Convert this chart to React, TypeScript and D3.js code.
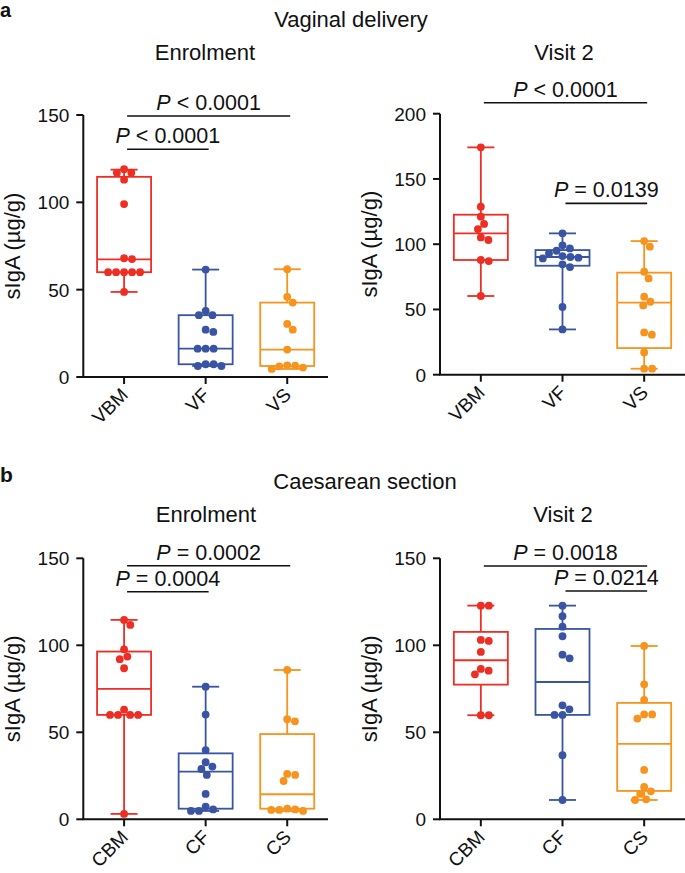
import React from 'react'
import * as d3 from 'd3'

// colours of the three groups (milk, faeces, saliva)
const groupColors = ['#ed2e24', '#3a54a4', '#f7941d']

// ---- a: vaginal delivery, enrolment ----
const vagEnrolCats = ['VBM', 'VF', 'VS']
const vagEnrolBM = [119, 117, 117, 113, 99, 68, 67.5, 60, 60, 60, 60, 60, 48.7]
const vagEnrolF = [61.5, 37.8, 35.4, 35.4, 27.1, 25.8, 16.2, 16.2, 16.2, 7.3, 6.3, 6.3, 7.3]
const vagEnrolS = [61.7, 45.9, 42.6, 30.4, 27.1, 15.7, 6.7, 6.1, 4.6, 5.4, 6.5]
// min, q1, median, q3, max
const vagEnrolBoxes = [
  [48.7, 60, 67.3, 114.6, 118.7],
  [6.3, 7.3, 16.2, 35.4, 61.5],
  [4.6, 6.3, 15.7, 42.6, 61.7]
]
const vagEnrolStats = [
  { from: 0, to: 2, level: 149.4, label: '< 0.0001' },
  { from: 0, to: 1, level: 130.4, label: '< 0.0001' }
]

// ---- a: vaginal delivery, visit 2 ----
const vagVisitCats = ['VBM', 'VF', 'VS']
const vagVisitBM = [174.2, 128.7, 121.1, 115.5, 111.6, 105.2, 103.2, 87.9, 87.1, 60.3]
const vagVisitF = [108.3, 99.1, 96.8, 95, 93, 90.9, 90.2, 89.7, 89.1, 84.6, 82.5, 51.9, 34.7]
const vagVisitS = [102.4, 98.1, 78.9, 73.8, 59.8, 55.9, 53.1, 32.4, 30.7, 17.1, 4.6, 4.6]
const vagVisitBoxes = [
  [60.3, 87.9, 108.3, 122.6, 174.2],
  [34.7, 83.5, 90.2, 95.5, 108.3],
  [4.6, 20.4, 55.2, 78.2, 102.4]
]
const vagVisitStats = [
  { from: 0, to: 2, level: 208.4, label: '< 0.0001' },
  { from: 1, to: 2, level: 131.3, label: '= 0.0139' }
]

// ---- b: caesarean section, enrolment ----
const caeEnrolCats = ['CBM', 'CF', 'CS']
const caeEnrolBM = [114.6, 111.7, 97.7, 93.5, 92, 86.8, 63, 60, 60, 60, 60, 3.1]
const caeEnrolF = [76.2, 60.2, 39.8, 32.8, 30.3, 28.9, 25.5, 14.6, 7.3, 5.7, 4.8, 4.8]
const caeEnrolS = [85.8, 57.5, 56.3, 26.1, 25.5, 22, 6.1, 5.7, 5.4, 5.4, 4.8]
const caeEnrolBoxes = [
  [3.1, 60, 74.9, 96.4, 114.6],
  [4.8, 6.1, 27.4, 37.9, 76.2],
  [4.8, 6.1, 14.4, 49, 85.8]
]
const caeEnrolStats = [
  { from: 0, to: 2, level: 145.7, label: '= 0.0002' },
  { from: 0, to: 1, level: 130.8, label: '= 0.0004' }
]

// ---- b: caesarean section, visit 2 ----
const caeVisitCats = ['CBM', 'CF', 'CS']
const caeVisitBM = [122.8, 122.8, 103.1, 102.5, 96.2, 86.4, 85.4, 83.3, 59.8, 59.8]
const caeVisitF = [122.8, 116.7, 110.7, 105.2, 94.6, 92.5, 65.5, 63.2, 60, 60, 36.8, 11.1]
const caeVisitS = [99.6, 77.6, 68.6, 60.3, 60.3, 57.9, 28.4, 18.6, 16.1, 14.6, 11.5, 11.1]
const caeVisitBoxes = [
  [59.8, 77.4, 91.4, 107.7, 122.8],
  [11.1, 60, 78.9, 109.4, 122.8],
  [11.1, 16.3, 43.3, 66.9, 99.6]
]
const caeVisitStats = [
  { from: 0, to: 2, level: 145.6, label: '= 0.0018' },
  { from: 1, to: 2, level: 131.2, label: '= 0.0214' }
]

const ticks150 = [0, 50, 100, 150]
const ticks200 = [0, 50, 100, 150, 200]

const FONT = '"Liberation Sans", Arial, Helvetica, sans-serif'
const R = 3.9
const SPACING = 8

// simple beeswarm: put each dot at the smallest offset that doesn't hit a placed dot
function swarm(values, y) {
  const placed = []
  const order = values.map((v, i) => i).sort((a, b) => values[b] - values[a])
  const out = new Array(values.length)
  order.forEach(i => {
    const py = y(values[i])
    const cands = [0]
    placed.forEach(p => {
      const dy = Math.abs(p.y - py)
      if (dy < SPACING) {
        const dx = Math.sqrt(SPACING * SPACING - dy * dy)
        cands.push(p.x + dx, p.x - dx)
      }
    })
    cands.sort((a, b) => Math.abs(a) - Math.abs(b) || b - a)
    const ok = cands.find(cx => placed.every(p => {
      const dx = p.x - cx
      const dy = p.y - py
      return dx * dx + dy * dy >= SPACING * SPACING - 0.5
    }))
    const pt = { x: ok, y: py }
    placed.push(pt)
    out[i] = pt
  })
  return out
}

function Panel({ cats, series, boxes, stats, yMax, ticks, x0, x1, yTop, yBottom }) {
  const x = d3.scalePoint().domain(cats).range([x0, x1]).padding(0.5)
  const y = d3.scaleLinear().domain([0, yMax]).range([yBottom, yTop])
  const boxW = 54
  const capW = 27

  return (
    <g>
      {/* boxes + whiskers */}
      {cats.map((c, i) => {
        const [mn, q1, med, q3, mx] = boxes[i]
        const cx = x(c)
        const col = groupColors[i]
        return (
          <g key={c} stroke={col} strokeWidth={1.8} fill="none">
            <line x1={cx} x2={cx} y1={y(mx)} y2={y(q3)} />
            <line x1={cx} x2={cx} y1={y(q1)} y2={y(mn)} />
            <line x1={cx - capW / 2} x2={cx + capW / 2} y1={y(mx)} y2={y(mx)} />
            <line x1={cx - capW / 2} x2={cx + capW / 2} y1={y(mn)} y2={y(mn)} />
            <rect x={cx - boxW / 2} y={y(q3)} width={boxW} height={y(q1) - y(q3)} fill="white" />
            <line x1={cx - boxW / 2} x2={cx + boxW / 2} y1={y(med)} y2={y(med)} />
          </g>
        )
      })}
      {/* dots */}
      {cats.map((c, i) => {
        const pts = swarm(series[i], y)
        return pts.map((p, j) => (
          <circle key={c + j} cx={x(c) + p.x} cy={p.y} r={R} fill={groupColors[i]} />
        ))
      })}
      {/* y axis */}
      <line x1={x0} x2={x0} y1={y(yMax)} y2={y(0)} stroke="#111" strokeWidth={2} />
      {ticks.map(t => (
        <g key={t}>
          <line x1={x0 - 7} x2={x0} y1={y(t)} y2={y(t)} stroke="#111" strokeWidth={2} />
          <text x={x0 - 14} y={y(t)} dy="0.36em" textAnchor="end" fontSize={19}>{t}</text>
        </g>
      ))}
      {/* x axis */}
      <line x1={x0 - 1} x2={x1} y1={y(0)} y2={y(0)} stroke="#111" strokeWidth={2} />
      {cats.map(c => (
        <g key={c}>
          <line x1={x(c)} x2={x(c)} y1={y(0)} y2={y(0) + 7} stroke="#111" strokeWidth={2} />
          <text transform={`translate(${x(c) + 5},${y(0) + 19}) rotate(-45)`} textAnchor="end" fontSize={19}>{c}</text>
        </g>
      ))}
      {/* axis title */}
      <text transform={`translate(${x0 - 63},${(y(0) + y(yMax)) / 2}) rotate(-90)`} textAnchor="middle" fontSize={22}>sIgA (µg/g)</text>
      {/* significance bars */}
      {stats.map((s, k) => {
        const a = x(cats[s.from]) + 3
        const b = x(cats[s.to]) + 3
        const ly = y(s.level)
        return (
          <g key={k}>
            <line x1={a} x2={b} y1={ly} y2={ly} stroke="#111" strokeWidth={1.6} />
            <text x={(a + b) / 2} y={ly - 6} textAnchor="middle" fontSize={21.5}>
              <tspan fontStyle="italic">P</tspan>
              <tspan>{' ' + s.label}</tspan>
            </text>
          </g>
        )
      })}
    </g>
  )
}

export default function App() {
  return (
    <svg width={685} height={873} style={{ position: 'absolute', left: 0, top: 0, background: 'white' }}
      fontFamily={FONT} fill="#111">
      <text x={0} y={17} fontSize={20} fontWeight="bold">a</text>
      <text x={351} y={27} textAnchor="middle" fontSize={22}>Vaginal delivery</text>
      <text x={205} y={60} textAnchor="middle" fontSize={22}>Enrolment</text>
      <text x={564} y={60} textAnchor="middle" fontSize={22}>Visit 2</text>
      <Panel cats={vagEnrolCats} series={[vagEnrolBM, vagEnrolF, vagEnrolS]} boxes={vagEnrolBoxes}
        stats={vagEnrolStats} yMax={150} ticks={ticks150} x0={83.3} x1={328} yTop={115} yBottom={377} />
      <Panel cats={vagVisitCats} series={[vagVisitBM, vagVisitF, vagVisitS]} boxes={vagVisitBoxes}
        stats={vagVisitStats} yMax={200} ticks={ticks200} x0={440} x1={685} yTop={113.7} yBottom={374.7} />

      <text x={0} y={482} fontSize={21} fontWeight="bold">b</text>
      <text x={365} y={489} textAnchor="middle" fontSize={22}>Caesarean section</text>
      <text x={206} y={522} textAnchor="middle" fontSize={22}>Enrolment</text>
      <text x={563} y={522} textAnchor="middle" fontSize={22}>Visit 2</text>
      <Panel cats={caeEnrolCats} series={[caeEnrolBM, caeEnrolF, caeEnrolS]} boxes={caeEnrolBoxes}
        stats={caeEnrolStats} yMax={150} ticks={ticks150} x0={83.3} x1={328} yTop={558.3} yBottom={819.3} />
      <Panel cats={caeVisitCats} series={[caeVisitBM, caeVisitF, caeVisitS]} boxes={caeVisitBoxes}
        stats={caeVisitStats} yMax={150} ticks={ticks150} x0={440} x1={685} yTop={558.3} yBottom={819.3} />
    </svg>
  )
}
